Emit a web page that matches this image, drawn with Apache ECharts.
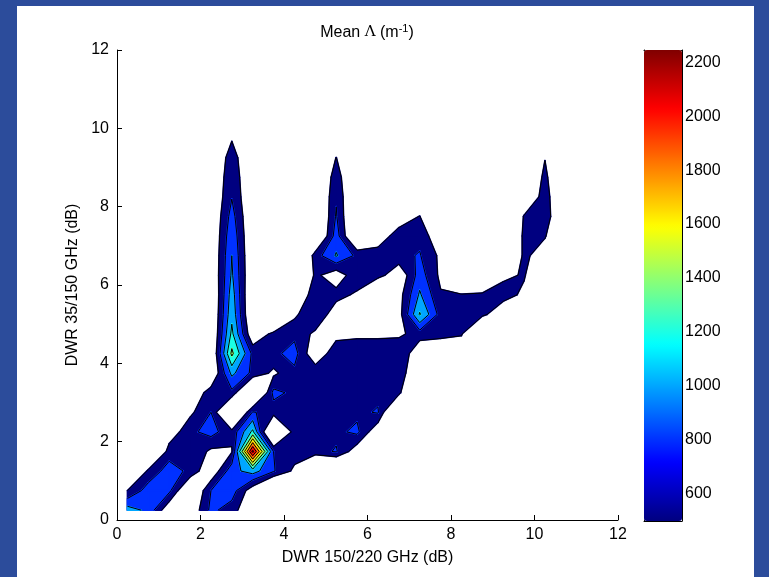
<!DOCTYPE html>
<html>
<head>
<meta charset="utf-8">
<script src="https://cdn.jsdelivr.net/npm/echarts@6/dist/echarts.min.js"></script>
<style>
html,body{margin:0;padding:0;width:769px;height:577px;overflow:hidden;background:#2c4c9b;}
#panel{position:absolute;left:17px;top:6px;width:737px;height:571px;background:#ffffff;}
#chart{position:absolute;left:0;top:0;width:769px;height:577px;}
</style>
</head>
<body>
<div id="panel"></div>
<div id="chart"></div>
<script>
// Grid of bin centres (dB)
const dwr150_220 = [0.25,0.75,1.25,1.75,2.25,2.75,3.25,3.75,4.25,4.75,5.25,5.75,6.25,6.75,7.25,7.75,8.25,8.75,9.25,9.75,10.25,10.75,11.25,11.75];
const dwr35_150  = [0.25,0.75,1.25,1.75,2.25,2.75,3.25,3.75,4.25,4.75,5.25,5.75,6.25,6.75,7.25,7.75,8.25,8.75,9.25,9.75,10.25,10.75,11.25,11.75];

// Mean Lambda (m^-1); one row per DWR 35/150 bin, bottom row first
const meanLambda = [
  [1100,950,400,400,850,700,350,0,0,0,0,0,0,0,0,0,0,0,0,0,0,0,0,0],
  [600,900,850,250,800,900,450,0,0,0,0,0,0,0,0,0,0,0,0,0,0,0,0,0],
  [0,650,900,750,400,930,1090,820,550,0,0,0,0,0,0,0,0,0,0,0,0,0,0,0],
  [0,0,700,790,550,580,2245,800,700,720,820,450,0,0,0,0,0,0,0,0,0,0,0,0],
  [0,0,450,750,880,660,1250,0,700,750,750,850,400,0,0,0,0,0,0,0,0,0,0,0],
  [0,0,0,550,800,0,820,700,750,750,750,750,820,0,0,0,0,0,0,0,0,0,0,0],
  [0,0,0,400,700,750,0,860,750,750,750,750,750,660,0,0,0,0,0,0,0,0,0,0],
  [0,0,0,0,350,1050,750,550,750,750,750,750,750,750,300,0,0,0,0,0,0,0,0,0],
  [0,0,0,0,300,1450,750,750,880,400,750,750,750,800,400,400,400,0,0,0,0,0,0,0],
  [0,0,0,0,300,1250,400,660,750,550,520,550,550,550,700,660,620,0,0,0,0,0,0,0],
  [0,0,0,0,300,1150,300,0,550,800,450,0,0,500,1220,720,720,660,400,0,0,0,0,0],
  [0,0,0,0,300,1100,300,0,400,700,680,560,0,500,1030,620,620,660,700,550,0,0,0,0],
  [0,0,0,0,350,1030,350,0,0,650,450,750,700,400,900,550,0,0,550,620,300,0,0,0],
  [0,0,0,0,350,1000,350,0,0,700,1020,750,750,750,815,550,0,0,0,660,450,0,0,0],
  [0,0,0,0,350,950,350,0,0,200,900,200,400,750,750,400,0,0,0,660,620,200,0,0],
  [0,0,0,0,350,880,350,0,0,200,820,200,0,400,610,0,0,0,0,620,750,200,0,0],
  [0,0,0,0,350,790,350,0,0,230,780,230,0,0,0,0,0,0,0,300,720,200,0,0],
  [0,0,0,0,350,750,350,0,0,230,720,230,0,0,0,0,0,0,0,250,660,200,0,0],
  [0,0,0,0,350,700,350,0,0,200,605,200,0,0,0,0,0,0,0,0,590,0,0,0],
  [0,0,0,0,250,580,250,0,0,0,0,0,0,0,0,0,0,0,0,0,0,0,0,0],
  [0,0,0,0,0,0,0,0,0,0,0,0,0,0,0,0,0,0,0,0,0,0,0,0],
  [0,0,0,0,0,0,0,0,0,0,0,0,0,0,0,0,0,0,0,0,0,0,0,0],
  [0,0,0,0,0,0,0,0,0,0,0,0,0,0,0,0,0,0,0,0,0,0,0,0],
  [0,0,0,0,0,0,0,0,0,0,0,0,0,0,0,0,0,0,0,0,0,0,0,0]
];

const contourLevels = [600,800,1000,1200,1400,1600,1800,2000,2200];
const colourRange = [498, 2246];
const colourTicks = [600,800,1000,1200,1400,1600,1800,2000,2200];
const axisTicks = [0,2,4,6,8,10,12];
const jetColours = ['#000080','#0000ff','#0080ff','#00ffff','#80ff80','#ffff00','#ff8000','#ff0000','#800000'];

// marching squares for one grid cell and one level
function isoPiece(i, j, L) {
  const x0 = dwr150_220[i], x1 = dwr150_220[i+1], y0 = dwr35_150[j], y1 = dwr35_150[j+1];
  const pts = [[x0,y0],[x1,y0],[x1,y1],[x0,y1]];
  const v = [meanLambda[j][i], meanLambda[j][i+1], meanLambda[j+1][i+1], meanLambda[j+1][i]];
  const up = v.map(function (a) { return a >= L; });
  const edge = [];
  let n = 0;
  for (let k = 0; k < 4; k++) {
    const b = (k + 1) % 4;
    if (up[k] !== up[b]) {
      const t = (L - v[k]) / (v[b] - v[k]);
      edge[k] = [pts[k][0] + t * (pts[b][0] - pts[k][0]), pts[k][1] + t * (pts[b][1] - pts[k][1])];
      n++;
    } else edge[k] = null;
  }
  const polys = [], segs = [];
  const centre = (v[0] + v[1] + v[2] + v[3]) / 4;
  if (n === 4 && centre < L) {
    for (let k = 0; k < 4; k++) {
      if (up[k]) {
        const p = (k + 3) % 4;
        polys.push([edge[p], pts[k], edge[k]]);
        segs.push([edge[k], edge[p]]);
      }
    }
  } else {
    const poly = [], isCross = [];
    for (let k = 0; k < 4; k++) {
      if (up[k]) { poly.push(pts[k]); isCross.push(false); }
      if (edge[k]) { poly.push(edge[k]); isCross.push(true); }
    }
    for (let k = 0; k < poly.length; k++) {
      const m = (k + 1) % poly.length;
      if (isCross[k] && isCross[m]) segs.push([poly[k], poly[m]]);
    }
    polys.push(poly);
  }
  return {polys: polys, segs: segs};
}

// one piece per (level, cell); the lowest filled band takes the bottom colour of the scale
const pieces = [];
contourLevels.forEach(function (L, k) {
  const colourValue = k === 0 ? colourRange[0] : L;
  for (let j = 0; j < dwr35_150.length - 1; j++) {
    for (let i = 0; i < dwr150_220.length - 1; i++) {
      const m = Math.max(meanLambda[j][i], meanLambda[j][i+1], meanLambda[j+1][i+1], meanLambda[j+1][i]);
      if (m >= L) pieces.push([dwr150_220[i], dwr35_150[j], colourValue, i, j, L]);
    }
  }
});

const chart = echarts.init(document.getElementById('chart'), null, {renderer: 'canvas'});
const axisFont = {fontFamily: 'Liberation Sans, Arial, sans-serif', fontSize: 16, color: '#000'};
const plain = function (v) { return String(v); };

chart.setOption({
  animation: false,
  backgroundColor: 'transparent',
  title: {
    text: 'Mean {sym|Λ} (m{sup|-1})',
    left: 362, top: 18, textAlign: 'center',
    textStyle: {
      fontFamily: 'Liberation Sans, Arial, sans-serif', fontSize: 16, fontWeight: 'normal', color: '#000',
      rich: {
        sym: {fontFamily: 'DejaVu Serif, serif', fontSize: 15, color: '#000'},
        sup: {fontFamily: 'Liberation Sans, Arial, sans-serif', fontSize: 11, color: '#000', verticalAlign: 'top', padding: [0, 0, 8, 0]}
      }
    }
  },
  grid: [
    {left: 117, top: 50, width: 501, height: 470, containLabel: false},
    {left: 644, top: 50, width: 38, height: 471, containLabel: false}
  ],
  xAxis: [
    {gridIndex: 0, type: 'value', min: 0, max: 12, interval: 2, position: 'bottom',
     name: 'DWR 150/220 GHz (dB)', nameLocation: 'middle', nameGap: 30,
     nameTextStyle: axisFont,
     axisLine: {show: true, lineStyle: {color: '#000', width: 1}},
     axisTick: {show: true, inside: true, length: 5, lineStyle: {color: '#000'}},
     axisLabel: Object.assign({margin: 7, formatter: plain}, axisFont),
     splitLine: {show: false}},
    {gridIndex: 1, type: 'value', min: 0, max: 1, position: 'bottom',
     axisLine: {show: true, onZero: false, lineStyle: {color: '#000'}}, axisTick: {show: false}, axisLabel: {show: false}, splitLine: {show: false}},
    {gridIndex: 1, type: 'value', min: 0, max: 1, position: 'top',
     axisLine: {show: true, onZero: false, lineStyle: {color: '#000'}}, axisTick: {show: false}, axisLabel: {show: false}, splitLine: {show: false}}
  ],
  yAxis: [
    {gridIndex: 0, type: 'value', min: 0, max: 12, interval: 2, position: 'left',
     name: 'DWR 35/150 GHz (dB)', nameLocation: 'middle', nameGap: 36, nameRotate: 90,
     nameTextStyle: axisFont,
     axisLine: {show: true, lineStyle: {color: '#000', width: 1}},
     axisTick: {show: true, inside: true, length: 5, lineStyle: {color: '#000'}},
     axisLabel: Object.assign({margin: 8, formatter: plain}, axisFont),
     splitLine: {show: false}},
    {gridIndex: 1, type: 'value', min: colourRange[0], max: colourRange[1], position: 'left',
     axisLine: {show: true, onZero: false, lineStyle: {color: '#000'}},
     axisTick: {show: true, inside: true, length: 4, customValues: colourTicks, lineStyle: {color: '#000'}},
     axisLabel: {show: false}, splitLine: {show: false}},
    {gridIndex: 1, type: 'value', min: colourRange[0], max: colourRange[1], position: 'right',
     axisLine: {show: true, onZero: false, lineStyle: {color: '#000'}},
     axisTick: {show: true, inside: true, length: 4, customValues: colourTicks, lineStyle: {color: '#000'}},
     axisLabel: Object.assign({margin: 3, customValues: colourTicks, formatter: plain}, axisFont),
     splitLine: {show: false}}
  ],
  visualMap: [{
    type: 'continuous', min: colourRange[0], max: colourRange[1], dimension: 2, seriesIndex: 0,
    inRange: {color: jetColours}, calculable: false, realtime: false, hoverLink: false,
    orient: 'vertical', left: 644, top: 50, itemWidth: 38, itemHeight: 471, padding: 0,
    showLabel: false, text: ['', '']
  }],
  series: [
    {
      type: 'custom', name: 'fill', xAxisIndex: 0, yAxisIndex: 0, silent: true,
      encode: {x: 0, y: 1}, data: pieces, z: 2,
      renderItem: function (params, api) {
        const r = isoPiece(api.value(3), api.value(4), api.value(5));
        const c = api.visual('color');
        return {type: 'group', children: r.polys.map(function (poly) {
          return {type: 'polygon', shape: {points: poly.map(function (p) { return api.coord(p); })},
                  style: {fill: c, stroke: c, lineWidth: 1.6, lineJoin: 'round'}};
        })};
      }
    },
    {
      type: 'custom', name: 'lines', xAxisIndex: 0, yAxisIndex: 0, silent: true,
      encode: {x: 0, y: 1}, data: pieces, z: 3,
      renderItem: function (params, api) {
        const r = isoPiece(api.value(3), api.value(4), api.value(5));
        return {type: 'group', children: r.segs.map(function (s) {
          const a = api.coord(s[0]), b = api.coord(s[1]);
          return {type: 'line', shape: {x1: a[0], y1: a[1], x2: b[0], y2: b[1]}, style: {stroke: '#000', lineWidth: 1}};
        })};
      }
    }
  ]
});
</script>
</body>
</html>
